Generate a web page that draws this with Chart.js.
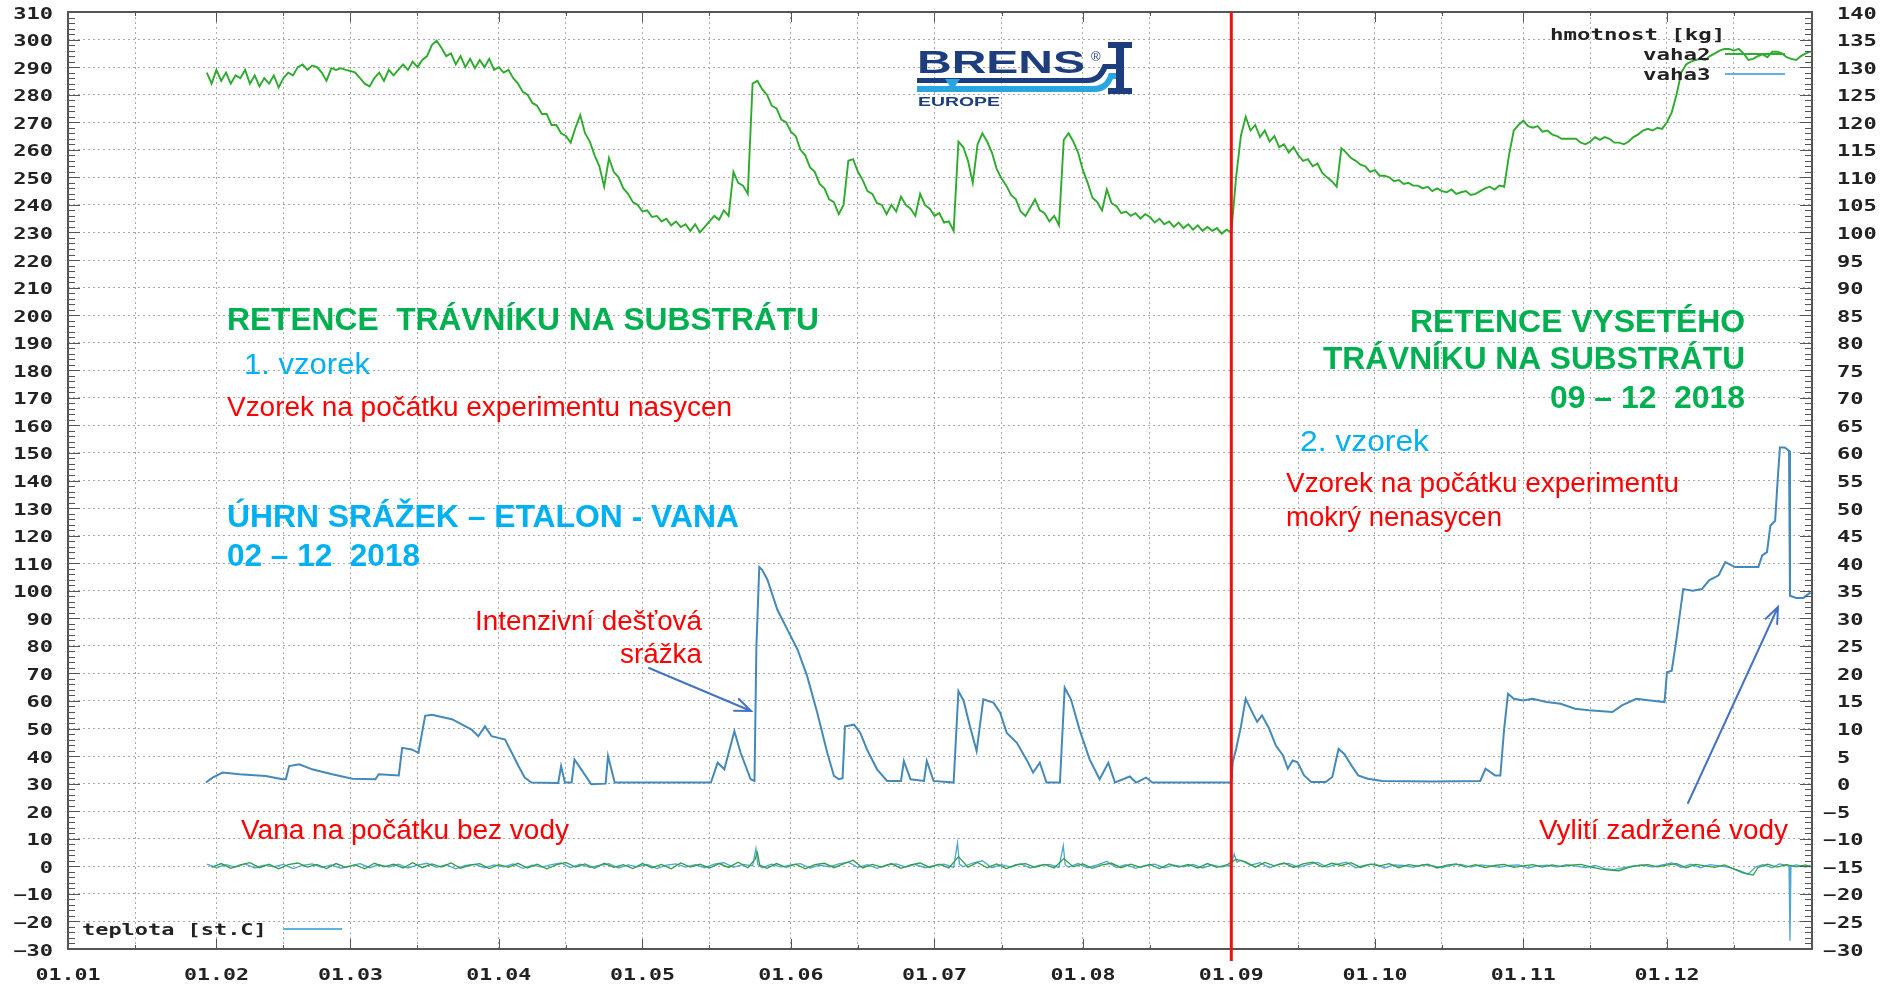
<!DOCTYPE html>
<html>
<head>
<meta charset="utf-8">
<title>Retence trávníku na substrátu</title>
<script src="https://cdn.jsdelivr.net/npm/chart.js@4.4.1/dist/chart.umd.min.js"></script>
<style>
  html, body { margin: 0; padding: 0; background: #fff; }
  canvas { display: block; }
</style>
</head>
<body>
<canvas id="graf" width="1884" height="990"></canvas>
<script>
// osa x = dny od 1.1.2018
const mesice = ['01.01', '01.02', '01.03', '01.04', '01.05', '01.06', '01.07', '01.08', '01.09', '01.10', '01.11', '01.12'];
const zacatkyMesicu = [0, 31, 59, 90, 120, 151, 181, 212, 243, 273, 304, 334];
const polovinyMesicu = [14, 45, 73, 104, 134, 165, 195, 226, 257, 287, 318, 348];
const konecOsy = 364.3;
const zacatekVzorku2 = 243; // 01.09 - cervena cara

const levaOsa = [-30, -20, -10, 0, 10, 20, 30, 40, 50, 60, 70, 80, 90, 100, 110, 120, 130, 140, 150,
  160, 170, 180, 190, 200, 210, 220, 230, 240, 250, 260, 270, 280, 290, 300, 310];
const pravaOsa = [-30, -25, -20, -15, -10, -5, 0, 5, 10, 15, 20, 25, 30, 35, 40, 45, 50, 55, 60,
  65, 70, 75, 80, 85, 90, 95, 100, 105, 110, 115, 120, 125, 130, 135, 140];

// vaha2 [kg] - jedna hodnota na den, od dne 29
const vaha2Od = 29;
const vaha2 = [
  129, 127, 129.5, 127.5, 129, 127, 128.5, 128, 129.5, 127,
  128.5, 126.5, 128, 127, 128.5, 126.3, 128, 129, 128.5, 130,
  130.5, 129.5, 130.3, 130, 129, 127.5, 129.8, 129.5, 129.8, 129.5,
  129.3, 129, 128, 127, 126.5, 128, 129, 127.5, 129.5, 128.5,
  129.5, 130.5, 129.5, 131, 130, 131.3, 132, 134, 134.8, 133.5,
  132, 132.5, 130.5, 132, 130, 131.5, 129.8, 131.3, 130, 131.5,
  129.5, 130, 129, 129.5, 128, 127, 125.5, 125, 123.5, 123,
  121.5, 121.5, 119.5, 119.5, 118, 117.5, 116.3, 119, 121.3, 118,
  116.5, 114, 112, 108.3, 113.5, 111, 110, 108, 107, 105.5,
  105, 103.8, 104, 102.8, 103, 102, 102.5, 101.3, 102, 101,
  101.5, 100.3, 101.5, 100, 101, 102, 103, 102.3, 104, 103,
  111, 109, 108.5, 107, 127, 127.5, 126, 125, 123, 122.5,
  120.5, 120, 118.3, 117.5, 115, 114, 111.8, 111, 108.8, 108,
  106, 105.5, 103.3, 105, 113, 113.3, 111, 109.5, 107.5, 107,
  105.3, 105, 103.3, 105, 103.8, 106.5, 105, 104.3, 103, 107,
  105, 104.3, 103, 103.5, 101.8, 102, 100.3, 116.5, 115.5, 113,
  109, 116, 118, 116.5, 114.5, 111.5, 109.8, 108.5, 106.8, 106,
  103.8, 103, 104.5, 106, 104, 103.5, 102, 103, 101.3, 116.8,
  118, 116.5, 114.5, 111.3, 109, 106.3, 105.5, 104, 107.8, 105.3,
  104.8, 103.5, 103.8, 103, 103.5, 102.5, 103.3, 102.8, 101.8, 102.5,
  101.5, 102, 101, 101.8, 100.8, 101.5, 100.5, 101.3, 100.3, 101,
  100.3, 100.8, 99.8, 100.5, 100, 110, 117.5, 121, 118.5, 119.5,
  117.3, 118.5, 116.5, 117.5, 115.5, 116, 114.5, 115.5, 114, 113,
  113.3, 112, 112.5, 110.8, 110, 109.3, 108.3, 115.3, 114.5, 113.5,
  113, 112.3, 112, 111, 111.3, 110.3, 110.3, 110, 109.3, 109.5,
  108.8, 109, 108.5, 108.5, 108, 108.3, 107.5, 108, 107.5, 107.3,
  107.8, 107, 107.3, 107.5, 106.8, 107, 107.5, 108, 108.3, 107.8,
  108.5, 108.3, 114, 118.5, 119.5, 120.3, 119.3, 119, 119.3, 118.3,
  118.5, 117.8, 117.5, 117, 117, 117, 117, 116.3, 116, 116.5,
  117.3, 116.8, 117.3, 117, 116.3, 116.3, 116, 116.5, 117.3, 117.8,
  118.5, 118.8, 118.5, 119, 118.8, 120, 121.8, 125, 129, 130.5,
  131, 131.3, 131.5, 131.3, 132, 132.5, 133, 133.3, 133.3, 133,
  133.3, 132.5, 131.3, 131.5, 132, 132.3, 131.8, 132.8, 132.8, 132.5,
  131.8, 131.5, 131.3, 132, 132.5, 132.8
];

// vaha3 [kg]
const vaha3Dny = [
  28.8, 30.2, 32.3, 35.8, 41.3, 44.8, 45.5, 46.2, 48.3, 51,
  55.2, 59.4, 64.2, 64.9, 69.1, 69.8, 71.8, 73.2, 74.6, 76,
  80.2, 84.3, 85.7, 87.1, 88.5, 91.3, 92.7, 94.1, 95.4, 96.8,
  102.4, 103, 103.8, 105.2, 105.8, 107.2, 109.3, 112.3, 112.8, 114.2,
  134.3, 135.7, 137.1, 139.2, 140.5, 142.6, 143.4, 143.8, 144.4, 145,
  146.1, 148.2, 150.3, 152.4, 154.4, 156.5, 158.6, 160, 161, 161.8,
  162.3, 164.2, 165.5, 166.9, 169, 171.1, 174, 174.6, 176, 178.8,
  179.4, 180.8, 185, 186, 187.1, 188.4, 189.8, 191.2, 193.3, 194.7,
  196.1, 198.2, 200.2, 201.6, 203, 204.4, 207.2, 208.2, 209.5, 211.3,
  213.4, 215.5, 217.3, 218.7, 221.8, 223.1, 225.2, 226.5, 242.8,
  243, 243.3, 244, 245, 246, 247, 248.4, 249.4, 250.9, 252.3,
  253.8, 254.8, 255.8, 256.8, 258.2, 259.7, 262.7, 264.1, 265.4, 266.6,
  268.1, 269.5, 271.5, 274.5, 285, 295, 296.1, 298.1, 299.2, 300,
  300.8, 302, 304, 305.9, 308.9, 311.8, 314.8, 317.7, 322.6, 324.6,
  327.6, 330.5, 333.5, 334, 335, 336, 337.4, 339.4, 341.3, 342.8,
  344.8, 346.2, 348.2, 353.1, 353.9, 354.9, 355.6, 356.6, 357.1, 357.6,
  358.6, 359.5, 359.7, 361, 362.5, 364
];
const vaha3 = [
  0.2, 1.1, 2.0, 1.7, 1.4, 0.8, 0.8, 3.2, 3.5, 2.6,
  1.7, 0.9, 0.8, 1.7, 1.5, 6.5, 6.2, 5.6, 12.3, 12.5,
  11.7, 9.8, 8.6, 10.4, 8.6, 8.0, 5.6, 3.2, 1.1, 0.2,
  0.1, 3.2, 0.2, 0.2, 4.4, 2.6, -0.1, 0, 5.0, 0.2,
  0.2, 3.8, 2.6, 9.5, 5.6, 0.8, 0.5, 25, 39.3, 38.8,
  37, 31.5, 27.9, 24.3, 19.5, 12.9, 5.6, 1.4, 0.8, 1,
  10.4, 10.7, 9.2, 6.2, 2.6, 0.5, 0.5, 4.1, 0.8, 0.5,
  4.1, 0.5, 0.2, 16.8, 15, 10.4, 5.9, 15.3, 14.7, 12.9,
  9.2, 7.4, 4.4, 2.0, 3.8, 0.2, 0.2, 17.4, 15.3, 9.8,
  4.4, 0.8, 3.8, 0.2, 1.3, 0.2, 1.1, 0.2, 0.2,
  0.3, 3.9, 6.3, 10.3, 15.4, 13.6, 11.2, 12.4, 10, 6.9,
  5.1, 2.7, 4.2, 3.9, 1.5, 0.3, 0.3, 1.2, 6.3, 5.4,
  3.3, 1.5, 0.9, 0.5, 0.4, 0.5, 2.7, 1.5, 1.5, 10,
  16.3, 15.4, 15.1, 15.4, 14.8, 14.5, 13.6, 13.3, 13, 14.2,
  15.4, 15.1, 14.8, 20.2, 20.5, 26.3, 35.3, 35, 35.3, 36.9,
  37.8, 40.2, 39.3, 39.3, 41.4, 42, 46.8, 47.7, 54.7, 61,
  61, 60.4, 34.1, 33.7, 33.7, 34.7
];

// teplota [st.C]
const teplotaDny = [
  29, 31, 33, 35, 37, 39, 41, 43, 45, 47,
  49, 51, 53, 55, 57, 59, 61, 63, 65, 67,
  69, 71, 73, 75, 77, 79, 81, 83, 85, 87,
  89, 91, 93, 95, 97, 99, 101, 103, 105, 107,
  109, 111, 113, 115, 117, 119, 121, 123, 125, 127,
  129, 131, 133, 135, 137, 139, 141, 143, 143.7, 144.1,
  145, 147, 149, 151, 153, 155, 157, 159, 161, 163,
  165, 167, 169, 171, 173, 175, 177, 179, 181, 183,
  185, 185.8, 186.2, 187, 189, 191, 193, 195, 197, 199,
  201, 203, 205, 207, 207.9, 208.3, 209, 211, 213, 215,
  217, 219, 221, 223, 225, 227, 229, 231, 233, 235,
  237, 239, 241, 243, 243.6, 244.2, 245, 247, 249, 251,
  253, 255, 257, 259, 261, 263, 265, 267, 269, 271,
  273, 275, 277, 279, 281, 283, 285, 287, 289, 291,
  293, 295, 297, 299, 301, 303, 305, 307, 309, 311,
  313, 315, 317, 319, 321, 323, 325, 327, 329, 331,
  333, 335, 337, 339, 341, 343, 345, 347, 349, 351,
  352.5, 354, 356, 357.5, 359.5, 359.7, 359.9, 361, 363, 364
];
const teplota = [
  0.8, -0.5, 0.6, -0.3, 0.9, -0.6, 0.4, -0.2, 0.7, -0.8,
  0.3, 0.9, -0.4, 0.5, -0.7, 0.2, 1.0, -0.5, 0.6, -0.3,
  0.8, -0.6, 0.4, 1.1, -0.4, 0.6, -0.9, 0.3, 0.7, -0.5,
  0.5, -0.2, 0.9, -0.7, 0.4, -0.3, 0.6, 1.2, -0.5, 0.8,
  -0.4, 0.3, 1.0, -0.6, 0.5, -0.2, 0.7, -0.8, 0.4, 0.9,
  -0.3, 0.6, -0.5, 0.8, 1.3, -0.4, 0.7, 0.2, 6.5, 0.6,
  -0.5, 0.8, -0.3, 0.5, 1.0, -0.6, 0.4, -0.2, 0.9, 1.5,
  -0.4, 0.6, -0.7, 0.5, 0.9, -0.3, 0.7, -0.5, 0.3, 0.8,
  -0.4, 8.5, 0.8, -0.2, 1.2, 2.0, -0.5, 0.6, -0.3, 0.9,
  -0.6, 0.4, 0.7, -0.4, 7.5, 0.6, -0.3, 1.0, -0.5, 0.5,
  1.8, -0.4, 0.6, -0.7, 0.3, 0.8, -0.5, 0.4, -0.2, 0.7,
  -0.6, 0.5, -0.3, 0.6, 4.5, 1.5, 2.2, 0.4, 1.3, -0.5,
  0.8, 1.1, -0.4, 0.6, 1.4, -0.3, 0.7, 1.5, -0.5, 0.4,
  0.9, -0.6, 0.5, 0.3, -0.4, 0.6, 0.2, -0.5, 0.4, 0.7,
  -0.3, 0.5, 0.2, -0.4, 0.3, 0.5, -0.6, 0.2, 0.4, -0.3,
  0.6, 0.1, -0.5, 0.3, -0.8, -1.2, -0.5, 0.2, 0.4, -0.3,
  0.5, 1.2, -0.4, 0.8, -0.5, 0.6, 0.2, -0.4, -1.5, -2.8,
  -0.3, 0.6, -0.5, 0.9, 0.2, -27, 0.1, 0.5, -0.3, 0.4
];

// zelena stopa u nuly
const zmenaDny = [
  30, 32, 34, 36, 38, 40, 42, 44, 46, 48,
  50, 52, 54, 56, 58, 60, 62, 64, 66, 68,
  70, 72, 74, 76, 78, 80, 82, 84, 86, 88,
  90, 92, 94, 96, 98, 100, 102, 104, 106, 108,
  110, 112, 114, 116, 118, 120, 122, 124, 126, 128,
  130, 132, 134, 136, 138, 140, 142, 143.5, 144, 144.5,
  146, 148, 150, 152, 154, 156, 158, 160, 162, 164,
  166, 168, 170, 172, 174, 176, 178, 180, 182, 184,
  186, 188, 190, 192, 194, 196, 198, 200, 202, 204,
  206, 208, 210, 212, 214, 216, 218, 220, 222, 224,
  226, 228, 230, 232, 234, 236, 238, 240, 242, 244,
  246, 248, 250, 252, 254, 256, 258, 260, 262, 264,
  266, 268, 270, 272, 274, 276, 278, 280, 282, 284,
  286, 288, 290, 292, 294, 296, 298, 300, 302, 304,
  306, 308, 310, 312, 314, 316, 318, 320, 322, 324,
  326, 328, 330, 332, 334, 336, 338, 340, 342, 344,
  346, 348, 350, 352, 353, 355, 357, 359, 361, 363,
  364
];
const zmena = [
  -0.4, 1.0, -0.7, 0.5, 1.3, -0.5, 0.8, -0.9, 0.6, 1.2,
  -0.3, 0.7, -0.8, 1.0, -0.4, 0.5, -0.9, 1.1, -0.2, 0.8,
  -0.6, 1.3, -0.5, 0.9, -0.3, 1.2, -0.7, 0.4, 1.0, -0.8,
  0.6, -0.4, 1.1, -0.6, 0.8, -0.9, 0.5, 1.4, -0.3, 0.9,
  -0.7, 1.1, -0.4, 0.6, -0.8, 1.0, -0.5, 0.7, -0.9, 1.2,
  -0.3, 0.8, -0.6, 1.0, -0.4, 1.5, -0.5, 2.5, 5.0, 0.4,
  -0.7, 1.0, -0.4, 0.8, -0.9, 0.6, 1.1, -0.5, 0.9, 2.2,
  -0.6, 0.7, -0.3, 1.0, -0.7, 0.5, 1.2, -0.4, 0.8, -0.6,
  3.5, -0.3, 1.4, -0.5, 0.9, -0.8, 0.6, 1.0, -0.4, 0.7,
  -0.6, 2.8, -0.2, 0.9, -0.7, 0.5, 1.1, -0.5, 0.8, -0.4,
  0.6, -0.8, 0.9, -0.3, 0.7, -0.6, 1.0, -0.4, 0.5, 2.5,
  1.6, -0.3, 1.4, 0.2, 1.2, -0.4, 0.9, 1.5, -0.2, 1.1,
  0.3, 1.3, -0.4, 0.8, 0.2, 1.0, -0.5, 0.6, 0.1, 0.8,
  -0.6, 0.4, 0.9, -0.3, 0.6, -0.5, 0.3, 0.7, -0.4, 0.2,
  0.6, -0.3, 0.5, -0.1, 0.4, 0.7, -0.2, -0.9, -1.4, -1.6,
  -0.4, 0.3, 0.6, -0.2, 0.4, 1.0, -0.5, 0.7, 0.2, -0.4,
  0.5, -1.0, -2.5, -3.2, -0.5, 0.8, -0.3, 0.6, -0.2, 0.5,
  -0.3
];

function body(dny, hodnoty) {
  return hodnoty.map((v, i) => ({ x: dny[i], y: v }));
}
const vaha2Dny = vaha2.map((_, i) => vaha2Od + i);

const MONO = '"DejaVu Sans Mono"';
const SANS = '"Liberation Sans"';

// text natazeny vodorovne (sx), zarovnani left/right/center
function textSx(ctx, s, x, y, font, color, align, sx) {
  ctx.save();
  ctx.font = font;
  ctx.fillStyle = color;
  ctx.textAlign = 'left';
  ctx.textBaseline = 'alphabetic';
  const w = ctx.measureText(s).width * sx;
  let x0 = x;
  if (align === 'right') x0 = x - w;
  if (align === 'center') x0 = x - w / 2;
  ctx.translate(x0, y);
  ctx.scale(sx, 1);
  ctx.fillText(s, 0, 0);
  ctx.restore();
}
// text s danou sirkou
function textW(ctx, s, x, y, font, color, align, w) {
  ctx.save();
  ctx.font = font;
  const sx = w / ctx.measureText(s).width;
  ctx.restore();
  textSx(ctx, s, x, y, font, color, align, sx);
}

function sipka(ctx, x1, y1, x2, y2) {
  const ang = Math.atan2(y2 - y1, x2 - x1), h = 17;
  ctx.save();
  ctx.strokeStyle = '#4472c4';
  ctx.lineWidth = 2;
  ctx.lineCap = 'round';
  ctx.beginPath();
  ctx.moveTo(x1, y1); ctx.lineTo(x2, y2);
  ctx.moveTo(x2 - h * Math.cos(ang - 0.38), y2 - h * Math.sin(ang - 0.38));
  ctx.lineTo(x2, y2);
  ctx.lineTo(x2 - h * Math.cos(ang + 0.38), y2 - h * Math.sin(ang + 0.38));
  ctx.stroke();
  ctx.restore();
}

function logo(ctx) {
  const navy = '#1d3d7d', svetla = '#29a6df';
  ctx.save();
  textW(ctx, 'BRENS', 917, 73, 'bold 32px ' + SANS, navy, 'left', 168);
  textSx(ctx, '®', 1091, 61, '13px ' + SANS, navy, 'left', 1);
  ctx.fillStyle = navy;
  ctx.fillRect(1108, 42, 24, 6);
  ctx.fillRect(1116, 42, 8, 51);
  ctx.fillRect(1108, 88, 24, 6);
  ctx.beginPath();
  ctx.moveTo(917, 78); ctx.lineTo(1086, 78);
  ctx.quadraticCurveTo(1096, 78, 1100, 70);
  ctx.lineTo(1103, 64); ctx.lineTo(1116, 64); ctx.lineTo(1116, 69); ctx.lineTo(1107, 69);
  ctx.quadraticCurveTo(1101, 83, 1088, 83);
  ctx.lineTo(917, 83);
  ctx.closePath(); ctx.fill();
  ctx.fillStyle = svetla;
  ctx.beginPath();
  ctx.moveTo(917, 86); ctx.lineTo(1093, 86);
  ctx.quadraticCurveTo(1103, 86, 1107, 78);
  ctx.lineTo(1109, 73); ctx.lineTo(1116, 73); ctx.lineTo(1116, 79); ctx.lineTo(1113, 79);
  ctx.quadraticCurveTo(1107, 92, 1095, 92);
  ctx.lineTo(917, 92);
  ctx.closePath(); ctx.fill();
  ctx.beginPath();
  ctx.moveTo(945, 79); ctx.lineTo(960, 79); ctx.lineTo(952.5, 90); ctx.closePath();
  ctx.fill();
  textW(ctx, 'EUROPE', 918, 106, 'bold 12px ' + SANS, navy, 'left', 82);
  ctx.restore();
}

const popisy = {
  id: 'popisy',
  afterDatasetsDraw(chart) {
    const ctx = chart.ctx;
    const a = chart.chartArea;
    const sx = chart.scales.x, sy = chart.scales.y, sy1 = chart.scales.y1;
    ctx.save();

    // ramecek a carky os
    ctx.strokeStyle = '#555';
    ctx.lineWidth = 2;
    ctx.strokeRect(a.left, a.top, a.right - a.left, a.bottom - a.top);
    ctx.lineWidth = 1;
    ctx.beginPath();
    for (let v = -30; v <= 310; v += 2) {
      const y = Math.round(sy.getPixelForValue(v)) + 0.5;
      const d = (v % 10 === 0) ? 12 : 7;
      ctx.moveTo(a.left, y); ctx.lineTo(a.left + d, y);
      ctx.moveTo(a.right, y); ctx.lineTo(a.right - d, y);
    }
    zacatkyMesicu.forEach(v => {
      const x = Math.round(sx.getPixelForValue(v)) + 0.5;
      ctx.moveTo(x, a.top); ctx.lineTo(x, a.top + 10);
      ctx.moveTo(x, a.bottom); ctx.lineTo(x, a.bottom - 10);
    });
    polovinyMesicu.forEach(v => {
      const x = Math.round(sx.getPixelForValue(v)) + 0.5;
      ctx.moveTo(x, a.top); ctx.lineTo(x, a.top + 4);
      ctx.moveTo(x, a.bottom); ctx.lineTo(x, a.bottom - 4);
    });
    ctx.stroke();

    // popisky os
    const fTick = 'bold 15px ' + MONO;
    levaOsa.forEach(v => {
      const y = sy.getPixelForValue(v);
      const s = v < 0 ? '\u2212' + Math.abs(v) : String(v);
      textSx(ctx, s, 53, y + 6.5, fTick, '#222', 'right', 1.47);
    });
    pravaOsa.forEach(v => {
      const y = sy1.getPixelForValue(v);
      textSx(ctx, String(Math.abs(v)), 1837, y + 6.5, fTick, '#222', 'left', 1.47);
      if (v < 0) textSx(ctx, '\u2212', 1836, y + 6.5, fTick, '#222', 'right', 1.47);
    });
    mesice.forEach((m, i) => {
      const x = sx.getPixelForValue(zacatkyMesicu[i]);
      textSx(ctx, m, x, 980, 'bold 16px ' + MONO, '#222', 'center', 1.35);
    });

    // legenda
    const fLeg = 'bold 16px ' + MONO;
    textSx(ctx, 'hmotnost [kg]', 1550, 40, fLeg, '#222', 'left', 1.4);
    textSx(ctx, 'vaha2', 1643, 60, fLeg, '#222', 'left', 1.4);
    textSx(ctx, 'vaha3', 1643, 80, fLeg, '#222', 'left', 1.4);
    ctx.lineWidth = 2;
    ctx.strokeStyle = '#30ad30';
    ctx.beginPath(); ctx.moveTo(1725, 54); ctx.lineTo(1785, 54); ctx.stroke();
    ctx.strokeStyle = '#62b3da';
    ctx.beginPath(); ctx.moveTo(1725, 74); ctx.lineTo(1785, 74); ctx.stroke();
    textSx(ctx, 'teplota [st.C]', 82, 935, fLeg, '#222', 'left', 1.37);
    ctx.beginPath(); ctx.moveTo(283, 929); ctx.lineTo(342, 929); ctx.stroke();

    // cervena cara - zacatek 2. vzorku
    const xr = sx.getPixelForValue(zacatekVzorku2);
    ctx.strokeStyle = '#ee1111';
    ctx.lineWidth = 3;
    ctx.beginPath(); ctx.moveTo(xr, a.top); ctx.lineTo(xr, a.bottom + 12); ctx.stroke();

    // texty
    const zelena = '#00b050', modra = '#00b0f0', cervena = '#ff0000';
    textW(ctx, 'RETENCE  TRÁVNÍKU NA SUBSTRÁTU', 227, 330, 'bold 32px ' + SANS, zelena, 'left', 592);
    textW(ctx, '1. vzorek', 244, 374, '30px ' + SANS, modra, 'left', 126);
    textW(ctx, 'Vzorek na počátku experimentu nasycen', 227, 416, '27px ' + SANS, cervena, 'left', 505);
    textW(ctx, 'ÚHRN SRÁŽEK – ETALON - VANA', 227, 527, 'bold 31px ' + SANS, modra, 'left', 512);
    textW(ctx, '02 – 12  2018', 227, 566, 'bold 31px ' + SANS, modra, 'left', 193);
    textW(ctx, 'Intenzivní dešťová', 702, 630, '27px ' + SANS, cervena, 'right', 227);
    textW(ctx, 'srážka', 702, 663, '27px ' + SANS, cervena, 'right', 82);
    textW(ctx, 'Vana na počátku bez vody', 241, 839, '27px ' + SANS, cervena, 'left', 328);
    textW(ctx, 'RETENCE VYSETÉHO', 1745, 332, 'bold 32px ' + SANS, zelena, 'right', 335);
    textW(ctx, 'TRÁVNÍKU NA SUBSTRÁTU', 1745, 369, 'bold 32px ' + SANS, zelena, 'right', 422);
    textW(ctx, '09 – 12  2018', 1745, 408, 'bold 32px ' + SANS, zelena, 'right', 195);
    textW(ctx, '2. vzorek', 1300, 451, '30px ' + SANS, modra, 'left', 129);
    textW(ctx, 'Vzorek na počátku experimentu', 1286, 492, '27px ' + SANS, cervena, 'left', 393);
    textW(ctx, 'mokrý nenasycen', 1286, 526, '27px ' + SANS, cervena, 'left', 216);
    textW(ctx, 'Vylití zadržené vody', 1788, 839, '27px ' + SANS, cervena, 'right', 249);

    sipka(ctx, 649, 668, 751, 711);
    sipka(ctx, 1688, 803, 1778, 607);

    logo(ctx);
    ctx.restore();
  }
};

const tecky = [2, 3];

new Chart(document.getElementById('graf'), {
  type: 'line',
  data: {
    datasets: [
      { label: 'teplota', data: body(teplotaDny, teplota), yAxisID: 'y',
        borderColor: '#4ba6d2', borderWidth: 1.3, pointRadius: 0, order: 4 },
      { label: 'zmena', data: body(zmenaDny, zmena), yAxisID: 'y',
        borderColor: '#2f9e45', borderWidth: 1.3, pointRadius: 0, order: 3 },
      { label: 'vaha3', data: body(vaha3Dny, vaha3), yAxisID: 'y1',
        borderColor: '#4489b8', borderWidth: 2, pointRadius: 0, order: 2 },
      { label: 'vaha2', data: body(vaha2Dny, vaha2), yAxisID: 'y1',
        borderColor: '#2eaa2e', borderWidth: 1.9, pointRadius: 0, order: 1 }
    ]
  },
  options: {
    responsive: false,
    animation: false,
    devicePixelRatio: 1,
    events: [],
    layout: { padding: { top: 12, left: 0, right: 0, bottom: 0 } },
    plugins: { legend: { display: false }, tooltip: { enabled: false } },
    scales: {
      x: {
        type: 'linear', min: 0, max: konecOsy,
        afterBuildTicks: s => {
          s.ticks = zacatkyMesicu.concat(polovinyMesicu).sort((p, q) => p - q).map(v => ({ value: v }));
        },
        afterFit: s => { s.height = 41; },
        ticks: { display: false },
        grid: { color: '#a9a9a9', lineWidth: 1, drawTicks: false },
        border: { display: false, dash: tecky }
      },
      y: {
        position: 'left', min: -30, max: 310,
        afterBuildTicks: s => { s.ticks = levaOsa.map(v => ({ value: v })); },
        afterFit: s => { s.width = 68; },
        ticks: { display: false },
        grid: { color: '#a9a9a9', lineWidth: 1, drawTicks: false },
        border: { display: false, dash: tecky }
      },
      y1: {
        position: 'right', min: -30, max: 140,
        afterBuildTicks: s => { s.ticks = pravaOsa.map(v => ({ value: v })); },
        afterFit: s => { s.width = 72; },
        ticks: { display: false },
        grid: { display: false, drawTicks: false },
        border: { display: false }
      }
    }
  },
  plugins: [popisy]
});
</script>
</body>
</html>
